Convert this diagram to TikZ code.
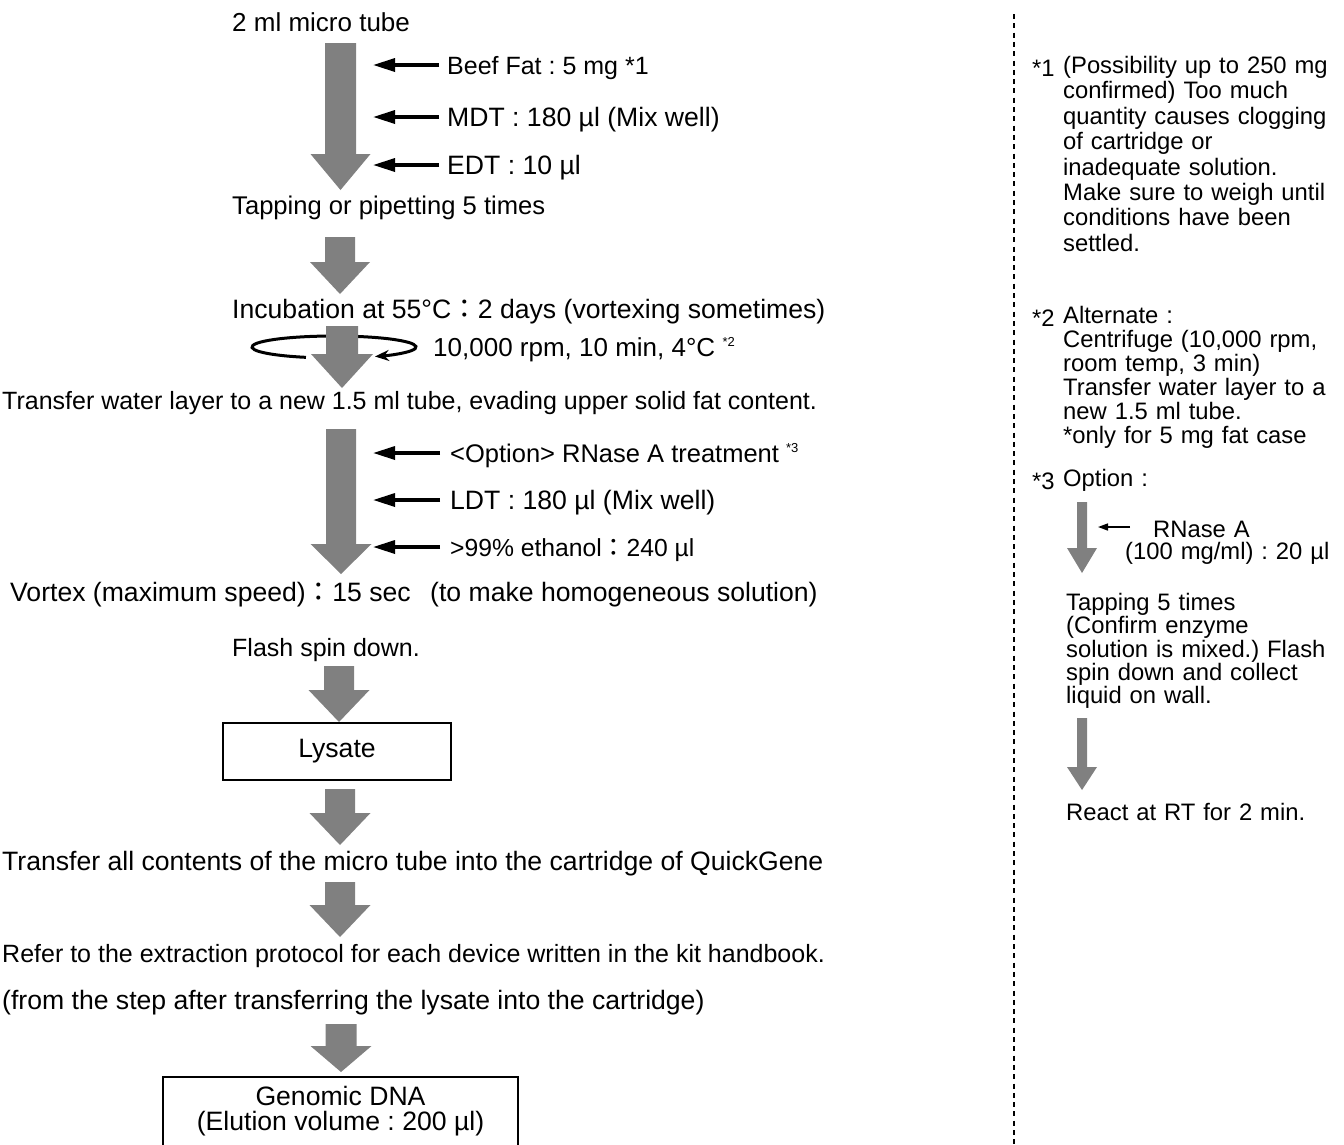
\documentclass[tikz,border=0pt]{standalone}
\usepackage{fontspec}
\setmainfont{Liberation Sans}
\newfontfamily\cjk{Noto Sans CJK JP}
\usetikzlibrary{arrows.meta}
\definecolor{arrowgray}{HTML}{808080}
\frenchspacing
\newcommand{\fwc}{{\cjk ：}}
\newcommand{\bigfs}{\fontsize{26.6}{30}\selectfont}
% gray block arrow: centre x, top y, tip y, shaft half width, head half width, head length
\newcommand{\grayarrow}[6]{%
  \fill[arrowgray] ({#1-#4},#2) -- ({#1+#4},#2) -- ({#1+#4},{#3-#6}) -- ({#1+#5},{#3-#6})
    -- (#1,#3) -- ({#1-#5},{#3-#6}) -- ({#1-#4},{#3-#6}) -- cycle;}
\begin{document}
\begin{tikzpicture}[x=1pt,y=-1pt,
  txt/.style={font=\fontsize{25}{30}\selectfont, inner sep=0pt, anchor=base west},
  note/.style={font=\fontsize{23.8}{25.4}\selectfont, inner sep=0pt, anchor=base west, text width=290pt, align=left},
  notenum/.style={font=\fontsize{23.8}{25}\selectfont, inner sep=0pt, anchor=base west},
  labarrow/.style={line width=3.3pt, -{Triangle[length=22pt, width=13pt]}},
  smallarrow/.style={line width=1.5pt, -{Triangle[length=10pt, width=7pt]}},
  spin/.style={line width=3pt, -{Stealth[length=14pt, width=11pt]}},
  procbox/.style={draw, line width=1.6pt, inner sep=0pt, font=\bigfs},
  dashline/.style={line width=1.3pt, dash pattern=on 5pt off 4.3pt}
]
\useasboundingbox (0,0) rectangle (1344,1144);
\clip (0,0) rectangle (1344,1144);

% ---------- main column ----------
\node[txt, font=\fontsize{26}{30}\selectfont] (t0) at (232,31) {2 ml micro tube};
\grayarrow{340.5}{43}{190}{15.5}{30}{36}
\coordinate (a1) at (373,65);
\coordinate (a2) at (373,117);
\coordinate (a3) at (373,165);
\node[txt] (b1) at (447,74) {Beef Fat : 5 mg *1};
\node[txt, font=\bigfs] (b2) at (447,126) {MDT : 180 µl (Mix well)};
\node[txt, font=\bigfs] (b3) at (447,174) {EDT : 10 µl};
\draw[labarrow] (b1.west |- a1) ++(-8,0) -- (a1);
\draw[labarrow] (b2.west |- a2) ++(-8,0) -- (a2);
\draw[labarrow] (b3.west |- a3) ++(-8,0) -- (a3);

\node[txt, font=\fontsize{25.6}{30}\selectfont] (t1) at (232,214) {Tapping or pipetting 5 times};
\grayarrow{340}{237}{294}{15}{30}{32}
\node[txt, font=\bigfs] (t2) at (232,318) {Incubation at 55°C\fwc 2 days (vortexing sometimes)};

% centrifuge
\coordinate (ec) at (334,347);
\draw[spin] (ec) ++(250:82pt and 11pt) arc[start angle=250, end angle=-60, x radius=82pt, y radius=11pt];
\grayarrow{342}{326}{388}{16}{31}{34}
\node[txt, font=\fontsize{26}{30}\selectfont] (t3) at (433,356) {10,000 rpm, 10 min, 4°C \textsuperscript{\fontsize{13}{13}\selectfont *2}};

\node[txt] (t4) at (2,409) {Transfer water layer to a new 1.5 ml tube, evading upper solid fat content.};
\grayarrow{341}{429}{574}{15}{30.5}{30}
\coordinate (a4) at (373,453);
\coordinate (a5) at (373,500);
\coordinate (a6) at (373,547);
\node[txt, font=\fontsize{25.5}{30}\selectfont] (b4) at (450,462) {<Option> RNase A treatment \textsuperscript{\fontsize{13}{13}\selectfont *3}};
\node[txt, font=\bigfs] (b5) at (450,509) {LDT : 180 µl (Mix well)};
\node[txt, font=\fontsize{24.7}{30}\selectfont] (b6) at (450,556) {>99\% ethanol\fwc 240 µl};
\draw[labarrow] (b4.west |- a4) ++(-10,0) -- (a4);
\draw[labarrow] (b5.west |- a5) ++(-10,0) -- (a5);
\draw[labarrow] (b6.west |- a6) ++(-10,0) -- (a6);

\node[txt, font=\bigfs] (t5) at (10,601) {Vortex (maximum speed)\fwc 15 sec\hspace{12pt} (to make homogeneous solution)};
\node[txt] (t6) at (232,656) {Flash spin down.};
\grayarrow{339}{666}{722}{15}{30.5}{32}
\node[procbox, minimum width=228pt, minimum height=57pt] (lys) at (337,751.5) {Lysate};
\grayarrow{340}{789}{845}{15}{30.5}{32}
\node[txt, font=\bigfs] (t7) at (2,870) {Transfer all contents of the micro tube into the cartridge of QuickGene};
\grayarrow{340}{882}{937}{15}{30.5}{32}
\node[txt] (t8) at (2,962) {Refer to the extraction protocol for each device written in the kit handbook.};
\node[txt, font=\bigfs] (t9) at (2,1009) {(from the step after transferring the lysate into the cartridge)};
\grayarrow{341}{1024}{1072}{15.5}{30.5}{26}
\node[font=\fontsize{26.6}{25.5}\selectfont, inner sep=0pt, align=center] (dna) at (340.5,1111) {Genomic DNA\\(Elution volume : 200 µl)};
\draw[line width=1.6pt] (163,1160) -- (163,1077) -- (518,1077) -- (518,1160);

% ---------- separator ----------
\draw[dashline] (1014,14) -- (1014,1144);

% ---------- notes ----------
\node[notenum] (n1s) at (1032,76) {*1};
\node[note] (n1) at (1063,73.5) {(Possibility up to 250 mg\\confirmed) Too much\\quantity causes clogging\\of cartridge or\\inadequate solution.\\Make sure to weigh until\\conditions have been\\settled.};

\node[notenum] (n2s) at (1032,326) {*2};
\node[note, font=\fontsize{23.8}{24}\selectfont] (n2) at (1063,323.5) {Alternate :\\Centrifuge (10,000 rpm,\\room temp, 3 min)\\Transfer water layer to a\\new 1.5 ml tube.\\{}*only for 5 mg fat case};

\node[notenum] (n3s) at (1032,489) {*3};
\node[note] (n3) at (1063,486.5) {Option :};
\grayarrow{1082}{502}{573}{5}{15}{25}
\node[note, font=\fontsize{23.8}{22}\selectfont] (rn) at (1125,537) {\hspace*{28pt}RNase A\\(100 mg/ml) : 20 µl};
\coordinate (rt) at (1130,527);
\coordinate (ra) at (1098,527);
\draw[smallarrow] (rt) -- (ra);
\node[note, font=\fontsize{23.8}{23.3}\selectfont] (n4) at (1066,610.5) {Tapping 5 times\\(Confirm enzyme\\solution is mixed.) Flash\\spin down and collect\\liquid on wall.};
\grayarrow{1082}{718}{790}{5}{15}{23}
\node[note] (n5) at (1066,820.5) {React at RT for 2 min.};
\end{tikzpicture}
\end{document}
